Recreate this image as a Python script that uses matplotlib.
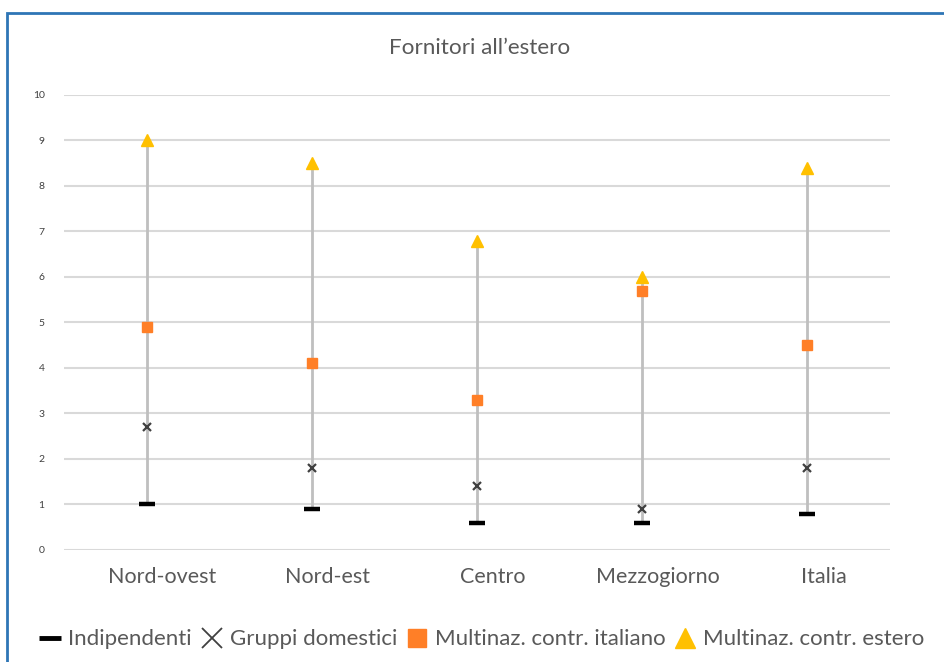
import matplotlib.pyplot as plt
from matplotlib.lines import Line2D
from matplotlib.patches import Rectangle
from matplotlib import transforms

regions = ['Nord-ovest', 'Nord-est', 'Centro', 'Mezzogiorno', 'Italia']
indipendenti = [1.0, 0.9, 0.6, 0.6, 0.8]
gruppi_dom = [2.7, 1.8, 1.4, 0.9, 1.8]
multi_ita = [4.9, 4.1, 3.3, 5.7, 4.5]
multi_est = [9.0, 8.5, 6.8, 6.0, 8.4]

plt.rcParams['font.family'] = ['Lato', 'DejaVu Sans']
grey_txt = '#595959'

fig = plt.figure(figsize=(9.44, 6.62), dpi=100)
ax = fig.add_axes([0.0678, 0.1692, 0.875, 0.6873])

x = range(len(regions))
lows = [min(v) for v in zip(indipendenti, gruppi_dom, multi_ita, multi_est)]
highs = [max(v) for v in zip(indipendenti, gruppi_dom, multi_ita, multi_est)]
ax.vlines(x, lows, highs, color='#BFBFBF', lw=2, zorder=2)

ax.plot(x, indipendenti, ls='none', marker='_', ms=12, mew=3.2, color='black', zorder=3)
ax.plot(x, gruppi_dom, ls='none', marker='x', ms=6, mew=1.6, color='#404040', zorder=3)
ax.plot(x, multi_ita, ls='none', marker='s', ms=7.5, color='#FF7F27', zorder=3)
ax.plot(x, multi_est, ls='none', marker='^', ms=9, color='#FFC000', zorder=3)

ax.set_xlim(-0.5, 4.5)
ax.set_ylim(0, 10)
ax.set_yticks(range(0, 11))
ax.grid(axis='y', color='#D9D9D9', lw=1.5)
ax.set_axisbelow(True)
for s in ax.spines.values():
    s.set_visible(False)
ax.tick_params(axis='y', length=0, labelsize=7.5, labelcolor='#404040', pad=14)
ax.tick_params(axis='x', length=0, labelsize=15.5, labelcolor=grey_txt, pad=12)
ax.set_xticks(list(x))
ax.set_xticklabels(regions)
offset = transforms.ScaledTranslation(16 / 100, 0, fig.dpi_scale_trans)
for lbl in ax.get_xticklabels():
    lbl.set_transform(lbl.get_transform() + offset)

fig.text(0.508, 0.927, 'Fornitori all\u2019estero', ha='center', va='center',
         fontsize=16.2, color=grey_txt)

handles = [
    Line2D([], [], ls='none', marker='_', ms=16, mew=3.5, color='black'),
    Line2D([], [], ls='none', marker='x', ms=15, mew=1.3, color='#404040'),
    Line2D([], [], ls='none', marker='s', ms=13, color='#FF7F27'),
    Line2D([], [], ls='none', marker='^', ms=15, color='#FFC000'),
]
labels = ['Indipendenti', 'Gruppi domestici', 'Multinaz. contr. italiano', 'Multinaz. contr. estero']
fig.legend(handles, labels, loc='center', bbox_to_anchor=(0.511, 0.034), ncol=4,
           frameon=False, labelcolor=grey_txt, handlelength=0.9,
           handletextpad=0.35, columnspacing=0.45, prop={'size': 16})

fig.patches.append(Rectangle((7 / 944, -0.1), 1.2, 1 - 13 / 662 + 0.1,
                             transform=fig.transFigure, fill=False,
                             edgecolor='#2E75B6', lw=2))

fig.savefig('out.png', dpi=100)
